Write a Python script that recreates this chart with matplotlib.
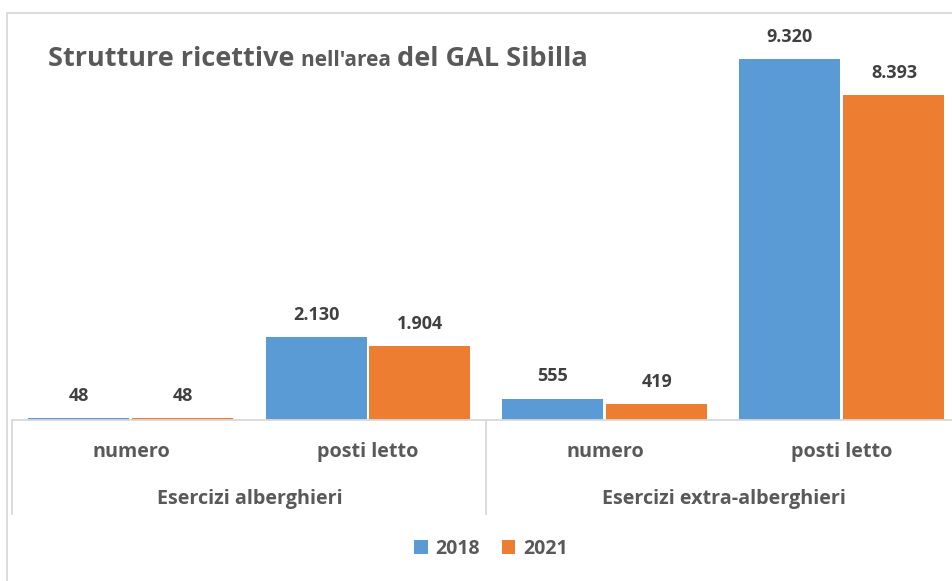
import matplotlib
matplotlib.use("Agg")
import matplotlib.pyplot as plt
from matplotlib.patches import Rectangle
import matplotlib.transforms as mtransforms

# ---- data ----
groups = ["Esercizi alberghieri", "Esercizi extra-alberghieri"]
subcats = ["numero", "posti letto", "numero", "posti letto"]
series_names = ["2018", "2021"]
values_2018 = [48, 2130, 555, 9320]
values_2021 = [48, 1904, 419, 8393]
value_labels_2018 = ["48", "2.130", "555", "9.320"]
value_labels_2021 = ["48", "1.904", "419", "8.393"]
colors = ["#5B9BD5", "#ED7D31"]

FONT = ["Open Sans", "DejaVu Sans"]
plt.rcParams["font.family"] = FONT

W, H = 953, 581
fig = plt.figure(figsize=(W / 100, H / 100), dpi=100)

def fx(px):
    return px / W

def fy(py):
    return 1 - py / H

# chart border (cropped at right/bottom)
fig.patches.append(Rectangle((fx(7), fy(700)), fx(1000), fy(13) - fy(700),
                             transform=fig.transFigure, fill=False,
                             edgecolor="#D9D9D9", linewidth=1.3))

# axes: baseline at y=420px, 9320 -> 59px
base_px = 420
scale = (420 - 59) / 9320.0
ymax = 10000
ax_h_px = ymax * scale
left_px = 12.5
slot = 237.0
ax = fig.add_axes([fx(left_px), fy(base_px), fx(4 * slot), ax_h_px / H])
ax.set_xlim(-0.5, 3.5)
ax.set_ylim(0, ymax)
ax.patch.set_alpha(0)

x = list(range(len(subcats)))
off = 52 / slot
bw = 101 / slot
b1 = ax.bar([i - off for i in x], values_2018, width=bw, color=colors[0],
            linewidth=0, label=series_names[0])
b2 = ax.bar([i + off for i in x], values_2021, width=bw, color=colors[1],
            linewidth=0, label=series_names[1])

for bars, labs in ((b1, value_labels_2018), (b2, value_labels_2021)):
    for rect, lab in zip(bars, labs):
        ax.annotate(lab, (rect.get_x() + rect.get_width() / 2, rect.get_height()),
                    xytext=(0, 16), textcoords="offset points", ha="center",
                    va="center", fontsize=13, fontweight="bold", color="#404040")

for s in ["top", "right", "left"]:
    ax.spines[s].set_visible(False)
ax.spines["bottom"].set_color("#D9D9D9")
ax.spines["bottom"].set_linewidth(1.3)
ax.set_yticks([])
ax.set_xticks([])

# hierarchical category axis
blend = mtransforms.blended_transform_factory(ax.transData, fig.transFigure)
for xv in [-0.5, 1.5]:
    ax.plot([xv, xv], [fy(base_px), fy(514)], transform=blend, color="#D9D9D9",
            linewidth=1.3, clip_on=False)
for i, lab in enumerate(subcats):
    ax.text(i, fy(452), lab, transform=blend, ha="center", va="center",
            fontsize=14.2, fontweight="bold", color="#595959")
for g, lab in enumerate(groups):
    ax.text(2 * g + 0.5, fy(499), lab, transform=blend, ha="center", va="center",
            fontsize=14.2, fontweight="bold", color="#595959")

# legend
leg = fig.legend(handles=[b1, b2], labels=series_names, loc="center",
                 bbox_to_anchor=(fx(491), fy(549)), ncol=2, frameon=False,
                 prop={"family": FONT, "weight": "bold", "size": 14},
                 handlelength=0.7, handleheight=0.7, handletextpad=0.4,
                 columnspacing=1.1, labelcolor="#595959")

# title with mixed sizes
renderer = fig.canvas.get_renderer()
parts = [("Strutture ricettive ", 19.5), ("nell'area ", 15), ("del GAL Sibilla", 19.5)]
xpos = 48
for txt, size in parts:
    t = fig.text(fx(xpos), fy(66), txt, ha="left", va="baseline", fontsize=size,
                 fontweight="bold", color="#595959")
    bb = t.get_window_extent(renderer=renderer)
    xpos += bb.width

fig.savefig("out.png", dpi=100)
